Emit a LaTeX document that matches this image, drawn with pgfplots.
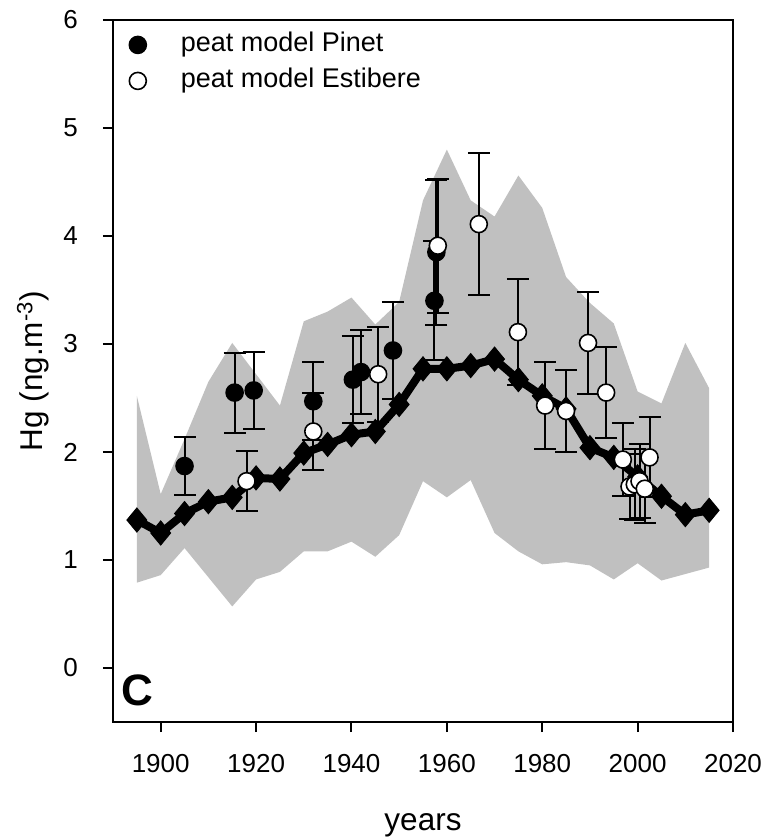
\documentclass[border=0pt]{standalone}
\usepackage{fontspec}
\setmainfont{Liberation Sans}
\usepackage{pgfplots}
\usepackage{pgfplotstable}
\pgfplotsset{compat=1.18}
\definecolor{bandgray}{RGB}{192,192,192}

\pgfplotstableread{
x y
1895 2.52
1900 1.61
1905 2.12
1910 2.65
1915 3.01
1920 2.72
1925 2.43
1930 3.21
1935 3.30
1940 3.43
1945 3.18
1950 3.39
1955 4.33
1960 4.80
1965 4.33
1970 4.18
1975 4.56
1980 4.26
1985 3.62
1990 3.38
1995 3.19
2000 2.56
2005 2.45
2010 3.01
2015 2.59
2015 0.93
2010 0.87
2005 0.81
2000 0.97
1995 0.82
1990 0.95
1985 0.98
1980 0.96
1975 1.08
1970 1.25
1965 1.74
1960 1.58
1955 1.73
1950 1.23
1945 1.03
1940 1.17
1935 1.08
1930 1.08
1925 0.89
1920 0.82
1915 0.57
1910 0.84
1905 1.11
1900 0.86
1895 0.79
}\band

\pgfplotstableread{
x y
1895 1.37
1900 1.25
1905 1.43
1910 1.54
1915 1.58
1920 1.76
1925 1.75
1930 1.99
1935 2.07
1940 2.16
1945 2.19
1950 2.44
1955 2.77
1960 2.77
1965 2.80
1970 2.86
1975 2.67
1980 2.52
1985 2.40
1990 2.04
1995 1.95
2000 1.77
2005 1.59
2010 1.42
2015 1.46
}\model

\pgfplotstableread{
x y e
1905.0 1.87 0.27
1915.5 2.55 0.37
1919.5 2.57 0.36
1932.0 2.47 0.36
1940.3 2.67 0.40
1942.0 2.74 0.39
1948.7 2.94 0.45
1957.4 3.40 0.55
1957.8 3.85 0.67
}\pinet

\pgfplotstableread{
x y e
1918.0 1.73 0.28
1932.0 2.19 0.36
1945.6 2.72 0.44
1958.1 3.91 0.62
1966.7 4.11 0.66
1974.9 3.11 0.49
1980.6 2.43 0.40
1985.0 2.38 0.38
1989.6 3.01 0.47
1993.4 2.55 0.42
1996.9 1.93 0.34
1998.3 1.68 0.30
1999.4 1.70 0.33
2000.4 1.73 0.34
2001.5 1.66 0.32
2002.5 1.95 0.37
}\estibere

\begin{document}
\begin{tikzpicture}
\begin{axis}[
  scale only axis,
  width=310pt, height=351pt,
  xmin=1890, xmax=2020,
  ymin=-0.5, ymax=6,
  xtick={1900,1920,...,2020},
  ytick={0,1,...,6},
  tick align=outside,
  xtick pos=bottom, ytick pos=left,
  major tick length=5pt,
  every tick/.style={black, line width=1pt},
  axis line style={line width=1pt},
  ticklabel style={font=\fontsize{13}{15}\selectfont},
  xticklabel style={yshift=-7.5pt},
  yticklabel style={xshift=-9pt},
  /pgf/number format/assume math mode=true,
  /pgf/number format/1000 sep={},
  xlabel={years},
  ylabel={Hg (ng.m\textsuperscript{-3})},
  label style={font=\fontsize{15.75}{18}\selectfont},
  xlabel style={at={(axis description cs:0.5,-0.155)}, anchor=base},
  ylabel style={at={(axis description cs:-0.113,0.5)}, anchor=base},
  legend style={draw=none, fill=none, at={(axis description cs:0.016,0.995)}, anchor=north west,
     font=\fontsize{13.5}{16}\selectfont, row sep=1pt,
     nodes={inner sep=2pt, text height=10pt, text depth=3pt}},
  legend cell align=left,
  legend image code/.code={\path[draw=none] (0pt,0pt) -- (23.5pt,0pt); \draw[#1] plot coordinates {(4pt,0pt)};},
]
\addplot[fill=bandgray, draw=none, forget plot] table[x=x,y=y] {\band};

\addplot[only marks, mark=none, black, forget plot,
  error bars/.cd, y dir=both, y explicit,
  error bar style={line width=1pt, draw=black},
  error mark options={rotate=90, line width=1pt, mark size=5.5pt, black}]
  table[x=x, y=y, y error=e] {\pinet};
\addplot[only marks, mark=none, black, forget plot,
  error bars/.cd, y dir=both, y explicit,
  error bar style={line width=1pt, draw=black},
  error mark options={rotate=90, line width=1pt, mark size=5.5pt, black}]
  table[x=x, y=y, y error=e] {\estibere};

\addplot[black, line width=4pt, mark=diamond*, mark size=6pt,
  mark options={solid, line width=0.5pt, xscale=1.1}, forget plot]
  table[x=x,y=y] {\model};

\addplot[only marks, mark=*, mark size=4.25pt, mark options={fill=black, draw=black, line width=0.8pt}]
  table[x=x,y=y] {\pinet};
\addlegendentry{peat model Pinet}
\addplot[only marks, mark=*, mark size=4.25pt, mark options={fill=white, draw=black, line width=0.8pt}]
  table[x=x,y=y] {\estibere};
\addlegendentry{peat model Estibere}

\node[font=\fontsize{22}{24}\selectfont\bfseries] at (axis cs:1895.2,-0.21) {C};
\end{axis}
\pgfresetboundingbox
\useasboundingbox (-56.5pt,-58pt) rectangle (326.5pt,361pt);
\end{tikzpicture}
\end{document}
